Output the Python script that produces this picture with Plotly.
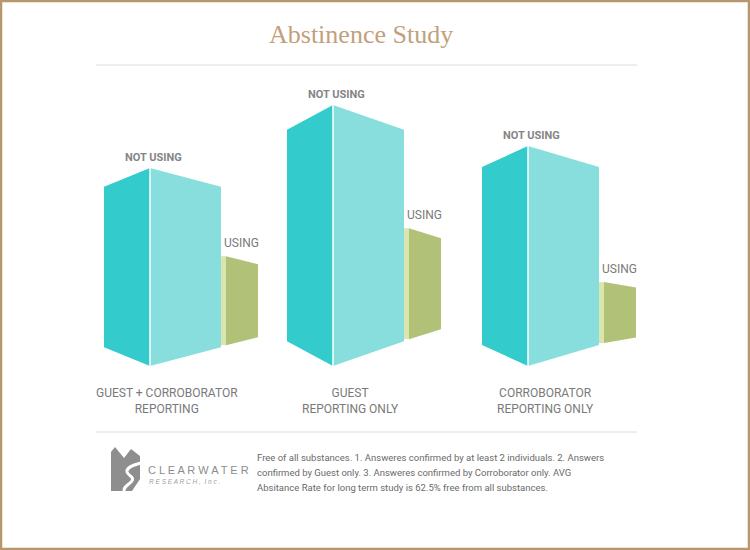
import plotly.graph_objects as go

# ---------------- data ----------------
categories = ["GUEST + CORROBORATOR<br>REPORTING", "GUEST<br>REPORTING ONLY", "CORROBORATOR<br>REPORTING ONLY"]
not_using = [198, 261, 220]   # bar heights (chart units)
using = [89, 111, 61]
series_labels = ["NOT USING", "USING"]
title_text = "Abstinence Study"
footnote_lines = [
    "Free of all substances. 1. Answeres confirmed by at least 2 individuals. 2. Answers",
    "confirmed by Guest only. 3. Answeres confirmed by Corroborator only. AVG",
    "Absitance Rate for long term study is 62.5% free from all substances.",
]

# ---------------- layout constants ----------------
W, H = 750, 550
group_x = [104, 287, 482]
base_y = 366
dark_w, light_w, strip_w, green_w = 46, 71, 5, 32
slant_nu, slant_u = 0.095, 0.09

DARK = "#33cbcb"
LIGHT = "#88dedd"
GREEN = "#b1c177"
PALE = "#dbe6ae"
TXT = "#7a7a7a"

fig = go.Figure()

def poly(xs, ys, color):
    fig.add_trace(go.Scatter(x=xs + [xs[0]], y=ys + [ys[0]], fill="toself", fillcolor=color,
                             mode="lines", line=dict(width=0, color=color),
                             hoverinfo="skip", showlegend=False))

annotations = []
for i, (cat, h, hu) in enumerate(zip(categories, not_using, using)):
    x0 = group_x[i]
    xm = x0 + dark_w
    xr = xm + light_w
    s = slant_nu * h
    # dark (left) face
    poly([x0, xm, xm, x0], [base_y - s, base_y, base_y - h, base_y - h + s], DARK)
    # light (right) face
    poly([xm, xr, xr, xm], [base_y, base_y - s, base_y - h + s, base_y - h], LIGHT)
    # white edge
    fig.add_trace(go.Scatter(x=[xm, xm], y=[base_y, base_y - h], mode="lines",
                             line=dict(color="white", width=1.5), hoverinfo="skip", showlegend=False))
    # using bar
    bg = base_y - s - 2
    su = slant_u * hu
    xl = xr + strip_w
    xg = xl + green_w
    poly([xr, xl, xl, xr], [bg, bg, bg - hu, bg - hu], PALE)
    poly([xl, xg, xg, xl], [bg, bg - su, bg - hu + su, bg - hu], GREEN)

    annotations.append(dict(x=xm + 3, y=base_y - h - 11, text="<b>" + series_labels[0] + "</b>",
                            showarrow=False, font=dict(family="Roboto", size=11, color="#858585")))
    annotations.append(dict(x=(xl + xg) / 2 - 1, y=bg - hu - 13, text=series_labels[1],
                            showarrow=False, font=dict(family="Roboto", size=12, color=TXT)))
    annotations.append(dict(x=x0 + 63, y=401, text=cat, showarrow=False, align="center",
                            font=dict(family="Roboto", size=12, color=TXT)))

# title
annotations.append(dict(x=361, y=34, text=title_text, showarrow=False,
                        font=dict(family="Liberation Serif", size=26, color="#c2a07b")))
# footnote
for j, line in enumerate(footnote_lines):
    annotations.append(dict(x=255, y=457 + 15 * j, text=line, showarrow=False, xanchor="left",
                            font=dict(family="Roboto", size=9.5, color="#6a6a6a")))
# logo text
annotations.append(dict(x=146, y=470, text="C L E A R W A T E R", showarrow=False, xanchor="left",
                        font=dict(family="Liberation Sans", size=11, color="#8c8c8c")))
annotations.append(dict(x=147, y=481, text="<i>R E S E A R C H ,  I n c .</i>", showarrow=False, xanchor="left",
                        font=dict(family="Liberation Sans", size=6.5, color="#a0a0a0")))

shapes = [
    dict(type="line", x0=96, x1=637, y0=65, y1=65, line=dict(color="#dcdcdc", width=1), layer="below"),
    dict(type="line", x0=96, x1=637, y0=432, y1=432, line=dict(color="#dcdcdc", width=1), layer="below"),
    # logo mountain mark
    dict(type="path", path="M111,491 L111,452 L115,447 L124,458 L131,449 L140,456 L140,479 L132,491 Z",
         fillcolor="#8e8e8e", line=dict(width=0), layer="above"),
    dict(type="path", path="M141,463 C134,465 126,467 127,472 C128,476 136,477 131,482 C127,486 123,487 124,492",
         line=dict(color="white", width=3), layer="above"),
    # frame
    dict(type="rect", x0=1, x1=W - 1, y0=1, y1=H - 1,
         line=dict(color="#b8976d", width=2.5)),
]

fig.update_layout(
    width=W, height=H, margin=dict(l=0, r=0, t=0, b=0),
    paper_bgcolor="white", plot_bgcolor="white",
    xaxis=dict(range=[0, W], visible=False, fixedrange=True),
    yaxis=dict(range=[H, 0], visible=False, fixedrange=True),
    annotations=annotations, shapes=shapes, showlegend=False,
)

fig.write_html("out.html", config={"displayModeBar": False},
               post_script="document.body.style.margin='0';document.body.style.overflow='hidden';")
